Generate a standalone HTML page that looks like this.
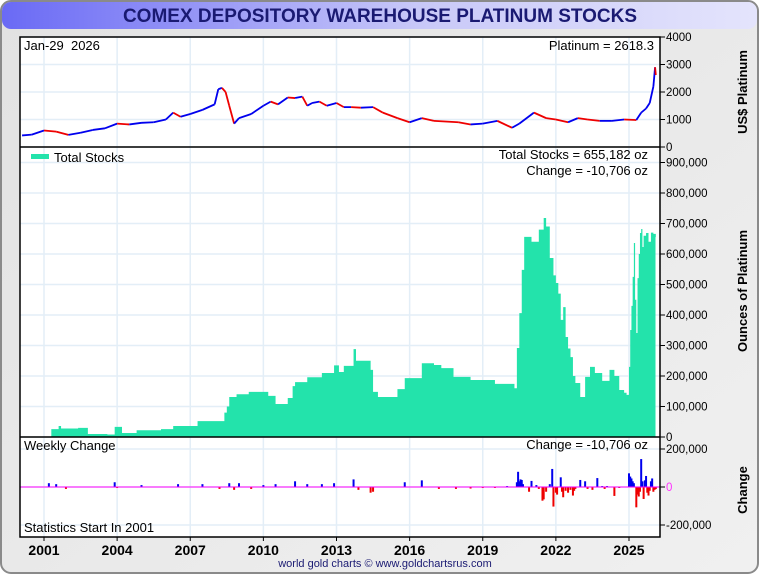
<!DOCTYPE html>
<html><head><meta charset="utf-8"><style>
body{margin:0;width:760px;height:575px;overflow:hidden;background:#fff;font-family:"Liberation Sans",sans-serif}
</style></head><body>
<svg id="c" width="760" height="575" xmlns="http://www.w3.org/2000/svg" font-family="Liberation Sans, sans-serif">
<defs>
<linearGradient id="tg" x1="0" x2="1" y1="0" y2="0"><stop offset="0" stop-color="#6a6af5"/><stop offset="0.55" stop-color="#c8c8f8"/><stop offset="1" stop-color="#e4e4fc"/></linearGradient>
<linearGradient id="bg" x1="0" x2="1" y1="0" y2="1"><stop offset="0" stop-color="#e2e2e2"/><stop offset="1" stop-color="#f0f0f0"/></linearGradient>
</defs>
<rect x="1" y="1" width="757" height="572" rx="10" fill="url(#bg)" stroke="#8a8a8a" stroke-width="2"/>
<rect x="2" y="2" width="755" height="27" rx="9" fill="url(#tg)"/>
<text x="380" y="22" text-anchor="middle" font-size="19" font-weight="bold" fill="#1a1a72">COMEX DEPOSITORY WAREHOUSE PLATINUM STOCKS</text>
<rect x="20" y="37" width="640" height="500" fill="#fff"/>
<g id="grid"></g><g id="marks"></g><g id="axes"></g>
<text x="24" y="50" font-size="13" xml:space="preserve">Jan-29  2026</text>
<text x="654" y="50" font-size="13" text-anchor="end">Platinum = 2618.3</text>
<rect x="31" y="154" width="18" height="5" fill="#23e3ab"/>
<text x="54" y="162" font-size="13">Total Stocks</text>
<text x="648" y="159" font-size="13" text-anchor="end">Total Stocks = 655,182 oz</text>
<text x="648" y="175" font-size="13" text-anchor="end">Change = -10,706 oz</text>
<text x="24" y="450" font-size="13">Weekly Change</text>
<text x="648" y="449" font-size="13" text-anchor="end">Change = -10,706 oz</text>
<text x="24" y="532" font-size="13">Statistics Start In 2001</text>
<text x="747" y="92" font-size="13" font-weight="bold" text-anchor="middle" transform="rotate(-90 747 92)">US$ Platinum</text>
<text x="747" y="291" font-size="13" font-weight="bold" text-anchor="middle" transform="rotate(-90 747 291)">Ounces of Platinum</text>
<text x="747" y="490" font-size="13" font-weight="bold" text-anchor="middle" transform="rotate(-90 747 490)">Change</text>
<text x="385" y="567" font-size="11" text-anchor="middle" fill="#1a1a72">world gold charts © www.goldchartsrus.com</text>
</svg>
<script>
const xYears=[2001,2004,2007,2010,2013,2016,2019,2022,2025];
const priceTicks=[0,1000,2000,3000,4000];
const stockTicks=[0,100000,200000,300000,400000,500000,600000,700000,800000,900000];
const changeTicks=[-200000,0,200000];
const priceYears=[2000.1,2000.5,2001.0,2001.5,2002.0,2002.5,2003.0,2003.5,2004.0,2004.5,2005.0,2005.5,2006.0,2006.3,2006.6,2007.0,2007.5,2008.0,2008.15,2008.3,2008.45,2008.6,2008.8,2009.0,2009.5,2010.0,2010.3,2010.6,2011.0,2011.3,2011.6,2011.8,2012.0,2012.3,2012.6,2013.0,2013.3,2013.6,2014.0,2014.5,2014.9,2015.5,2016.0,2016.5,2017.0,2018.0,2018.5,2019.0,2019.6,2020.2,2020.5,2021.1,2021.6,2022.0,2022.5,2022.9,2023.3,2023.8,2024.3,2024.8,2025.3,2025.5,2025.7,2025.85,2026.0,2026.07,2026.1];
const priceVals=[420,450,600,560,440,520,620,680,850,820,880,900,1000,1250,1100,1200,1350,1550,2100,2150,2000,1500,850,1050,1200,1500,1650,1550,1800,1780,1830,1500,1600,1650,1500,1600,1450,1450,1430,1450,1250,1050,900,1050,950,900,820,850,950,700,850,1250,1050,1000,900,1050,1000,950,950,1000,980,1250,1400,1600,2200,2900,2618];
const stockYears=[2001.3,2001.6,2001.7,2002.4,2002.8,2003.6,2003.9,2004.2,2004.8,2005.8,2006.3,2007.3,2008.4,2008.5,2008.6,2008.9,2009.4,2010.2,2010.5,2011.0,2011.2,2011.3,2011.8,2012.4,2012.9,2013.1,2013.3,2013.7,2013.8,2014.4,2014.5,2014.7,2015.5,2015.8,2016.5,2017.0,2017.3,2017.8,2018.5,2019.5,2020.3,2020.4,2020.5,2020.6,2020.7,2021.0,2021.3,2021.5,2021.6,2021.75,2021.9,2022.0,2022.1,2022.2,2022.3,2022.4,2022.5,2022.6,2022.7,2022.8,2023.0,2023.2,2023.4,2023.6,2023.9,2024.2,2024.4,2024.6,2024.8,2024.9,2025.0,2025.05,2025.1,2025.15,2025.2,2025.25,2025.3,2025.35,2025.4,2025.45,2025.5,2025.55,2025.6,2025.7,2025.8,2025.9,2026.0,2026.1];
const stockVals=[26000,36000,28000,30000,10000,8000,33000,13000,22000,26000,36000,52000,80000,100000,131000,140000,148000,135000,108000,128000,167000,180000,196000,210000,235000,213000,233000,288000,250000,220000,148000,131000,157000,193000,242000,236000,226000,197000,187000,174000,160000,292000,406000,548000,656000,640000,680000,718000,690000,587000,530000,505000,470000,384000,426000,328000,290000,262000,200000,177000,131000,197000,230000,210000,184000,220000,200000,154000,145000,138000,230000,351000,430000,525000,636000,450000,341000,521000,600000,669000,682000,623000,660000,669000,640000,670000,665888,655182];
const changeYears=[2001.2,2001.5,2001.9,2003.9,2004.0,2005.0,2006.5,2007.5,2008.2,2008.6,2008.8,2009.0,2009.5,2010.0,2010.5,2011.3,2011.8,2012.4,2012.9,2013.7,2013.9,2014.4,2014.5,2015.8,2016.5,2017.2,2017.9,2018.5,2019.0,2019.5,2020.0,2020.4,2020.45,2020.5,2020.55,2020.6,2020.65,2020.9,2021.0,2021.2,2021.3,2021.45,2021.5,2021.6,2021.75,2021.85,2021.9,2022.0,2022.05,2022.2,2022.25,2022.3,2022.4,2022.5,2022.6,2022.7,2022.75,2022.8,2023.0,2023.2,2023.3,2023.5,2023.7,2023.9,2024.0,2024.1,2024.4,2024.6,2025.0,2025.05,2025.1,2025.15,2025.2,2025.3,2025.35,2025.4,2025.45,2025.5,2025.55,2025.6,2025.65,2025.7,2025.75,2025.8,2025.85,2025.9,2025.95,2026.0,2026.05,2026.1];
const changeVals=[20000,15000,-10000,25000,-5000,10000,15000,15000,-10000,20000,-15000,20000,-10000,10000,15000,30000,15000,15000,20000,40000,-15000,-30000,-25000,25000,35000,-10000,-10000,-8000,-5000,-5000,5000,25000,80000,30000,40000,37000,15000,-25000,32000,10000,-10000,-72000,-65000,-25000,15000,95000,-103000,-30000,-40000,51000,-25000,-54000,-20000,-30000,-15000,-45000,-20000,-10000,37000,30000,-10000,-15000,47000,5000,-10000,5000,-47000,-5000,72000,55000,45000,30000,20000,-107000,-40000,-50000,-25000,147000,30000,-63000,35000,58000,-30000,-45000,-20000,30000,45000,-25000,-15000,-10706];
const NS='http://www.w3.org/2000/svg';
const X=y=>44+(y-2001)*24.375;
const YP=v=>147-v*0.0275;
const YS=v=>437-v*0.000305;
const YC=v=>487-v*0.00019;
const L=20,R=660;
function mk(p,t,a){const e=document.createElementNS(NS,t);for(const k in a)e.setAttribute(k,a[k]);document.getElementById(p).appendChild(e);return e;}
xYears.forEach(y=>{const l=mk('grid','line',{x1:X(y),x2:X(y),y1:37,y2:537,stroke:'#e3eef7','stroke-width':1.5});

});
priceTicks.forEach(v=>{const l=mk('grid','line',{x1:L,x2:R,y1:YP(v),y2:YP(v),stroke:'#e3eef7','stroke-width':1.5});

});
stockTicks.forEach(v=>{const l=mk('grid','line',{x1:L,x2:R,y1:YS(v),y2:YS(v),stroke:'#e3eef7','stroke-width':1.5});

});
changeTicks.forEach(v=>{const l=mk('grid','line',{x1:L,x2:R,y1:YC(v),y2:YC(v),stroke:'#e3eef7','stroke-width':1.5});

});
let d='M'+X(stockYears[0])+','+YS(0);
for(let i=0;i<stockYears.length;i++){const x0=X(stockYears[i]);const x1=i+1<stockYears.length?X(stockYears[i+1]):655.5;
d+=' L'+x0+','+YS(stockVals[i])+' L'+x1+','+YS(stockVals[i]);}
d+=' L655.5,'+YS(0)+' Z';
const area=mk('marks','path',{d:d,fill:'#23e3ab'});


for(let i=0;i<priceYears.length-1;i++){
const s=mk('marks','line',{x1:X(priceYears[i]),y1:YP(priceVals[i]),x2:X(priceYears[i+1]),y2:YP(priceVals[i+1]),stroke:priceVals[i+1]>=priceVals[i]?'#0000ee':'#ee0000','stroke-width':1.8});

}
changeYears.forEach((y,i)=>{const v=changeVals[i];const b=mk('marks','rect',{x:X(y)-1,width:2,y:Math.min(YC(0),YC(v)),height:Math.abs(YC(v)-YC(0)),fill:v>=0?'#0000ee':'#ee0000'});

});
const zl=mk('marks','line',{x1:L,x2:R,y1:YC(0),y2:YC(0),stroke:'#ff00ff','stroke-width':1});


const fr=mk('axes','rect',{x:L,y:37,width:R-L,height:500,fill:'none',stroke:'#000','stroke-width':1.5});


[147,437].forEach(y=>{const l=mk('axes','line',{x1:L,x2:R,y1:y,y2:y,stroke:'#000','stroke-width':1.5});

});
function ytick(v,y,label,col){const t=mk('axes','line',{x1:R,x2:R+5,y1:y,y2:y,stroke:'#000'});


const tx=mk('axes','text',{x:R+6,y:y+4,'font-size':11.5,fill:col||'#000'});tx.textContent=label;

}
priceTicks.forEach(v=>ytick(v,YP(v),String(v)));
stockTicks.forEach(v=>ytick(v,YS(v),v.toLocaleString('en-US')));
changeTicks.forEach(v=>ytick(v,YC(v),v===0?'':(v>0?'':'-')+Math.abs(v).toLocaleString('en-US')));
const z=mk('axes','text',{x:R+6,y:YC(0)+4,'font-size':11.5,fill:'#ff33ff'});z.textContent='0';


xYears.forEach(y=>{const t=mk('axes','line',{x1:X(y),x2:X(y),y1:537,y2:541,stroke:'#000'});


const tx=mk('axes','text',{x:X(y),y:555,'font-size':14,'font-weight':'bold','text-anchor':'middle'});tx.textContent=y;

});
</script>
</body></html>
